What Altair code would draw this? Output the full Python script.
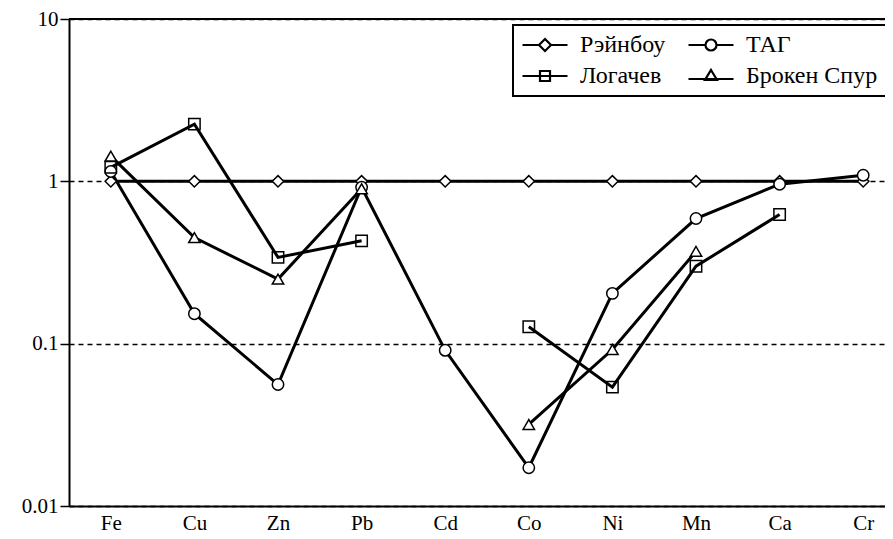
import altair as alt
import pandas as pd

elements = ["Fe", "Cu", "Zn", "Pb", "Cd", "Co", "Ni", "Mn", "Ca", "Cr"]
series_names = ["Рэйнбоу", "ТАГ", "Логачев", "Брокен Спур"]
legend_order = ["Рэйнбоу", "Логачев", "ТАГ", "Брокен Спур"]

rainbow = [1.0, 1.0, 1.0, 1.0, 1.0, 1.0, 1.0, 1.0, 1.0, 1.0]
tag = [1.15, 0.153, 0.056, 0.92, 0.091, 0.0172, 0.204, 0.59, 0.96, 1.09]
logachev = [1.22, 2.25, 0.34, 0.43, None, 0.127, 0.054, 0.30, 0.625, None]
broken = [1.43, 0.45, 0.25, 0.90, None, 0.0318, 0.092, 0.37, None, None]

y_ticks = [0.01, 0.1, 1, 10]

FONT = "Liberation Serif"

values = {"Рэйнбоу": rainbow, "ТАГ": tag, "Логачев": logachev, "Брокен Спур": broken}

rows = []
for s in series_names:
    seg = 0
    for i, (e, v) in enumerate(zip(elements, values[s])):
        if v is None:
            seg += 1
            continue
        rows.append({"series": s, "element": e, "idx": i, "value": v, "seg": f"{s}-{seg}"})
df = pd.DataFrame(rows)

x_enc = alt.X("element:N", sort=elements,
              scale=alt.Scale(type="point", domain=elements, range=[0, 836], padding=0.5),
              axis=alt.Axis(title=None, labelAngle=0, ticks=False, domain=True,
                            domainColor="black", domainWidth=2, labelFontSize=21,
                            labelPadding=6, grid=False, labelColor="black",
                            labelFont=FONT))
y_enc = alt.Y("value:Q",
              scale=alt.Scale(type="log", domain=[0.01, 10], nice=False),
              axis=alt.Axis(title=None, values=y_ticks, format=".2~f", tickSize=9,
                            tickWidth=1.5, tickColor="black", domainColor="black",
                            domainWidth=2, labelFontSize=21, labelPadding=2,
                            labelColor="black", labelFont=FONT,
                            grid=True, gridDash=[5, 4], gridColor="black",
                            gridWidth=1.5, gridOpacity=1))

base = alt.Chart(df)

lines = base.mark_line(color="black", strokeWidth=3).encode(
    x=x_enc, y=y_enc, detail="seg:N", order=alt.Order("idx:Q"))

points = base.mark_point(filled=True, stroke="black", strokeWidth=1.5, opacity=1, size=130).encode(
    x=x_enc, y=y_enc,
    shape=alt.Shape("series:N", scale=alt.Scale(domain=series_names,
                    range=["diamond", "circle", "square", "triangle-up"]), legend=None),
    fill=alt.Fill("series:N", scale=alt.Scale(domain=series_names,
                  range=["white", "white", "transparent", "white"]), legend=None))

top_rule = alt.Chart(df).mark_rule(color="black", strokeWidth=2).encode(y=alt.datum(10))

leg_paths = {
    "Рэйнбоу": "M-2.25,0L-0.6,0M0.6,0L2.25,0M0,-0.6L0.6,0L0,0.6L-0.6,0Z",
    "ТАГ": "M-2.25,0L-0.55,0M0.55,0L2.25,0M-0.55,0A0.55,0.55 0 1,0 0.55,0A0.55,0.55 0 1,0 -0.55,0Z",
    "Логачев": "M-2.25,0L2.25,0M-0.5,-0.5L0.5,-0.5L0.5,0.5L-0.5,0.5Z",
    "Брокен Спур": "M-2.25,0.3L2.25,0.3M0,-0.6L0.6,0.4L-0.6,0.4Z",
}

legend_layer = alt.Chart(df).transform_filter("false").mark_point(filled=False).encode(
    x=x_enc, y=y_enc,
    shape=alt.Shape("series:N",
                    scale=alt.Scale(domain=legend_order, range=[leg_paths[s] for s in legend_order]),
                    legend=alt.Legend(title=None, orient="none", legendX=444, legendY=6,
                                      columns=2, columnPadding=18, rowPadding=7,
                                      symbolSize=400, symbolStrokeColor="black",
                                      symbolFillColor="white", symbolStrokeWidth=2.2,
                                      symbolOpacity=1, symbolOffset=12,
                                      labelFont=FONT,
                                      labelFontSize=24, labelColor="black",
                                      labelOffset=23, padding=8, strokeColor="black",
                                      fillColor="white", labelLimit=300)))

chart = alt.layer(lines, top_rule, points, legend_layer).resolve_scale(
    shape="independent", fill="independent"
).properties(
    width=816, height=487,
    autosize=alt.AutoSizeParams(type="none"),
    padding={"left": 61, "top": 11, "right": 0, "bottom": 30},
).configure_view(stroke=None).configure_legend(strokeWidth=2)

chart.save("out.html", embed_options={"renderer": "svg", "actions": False})
